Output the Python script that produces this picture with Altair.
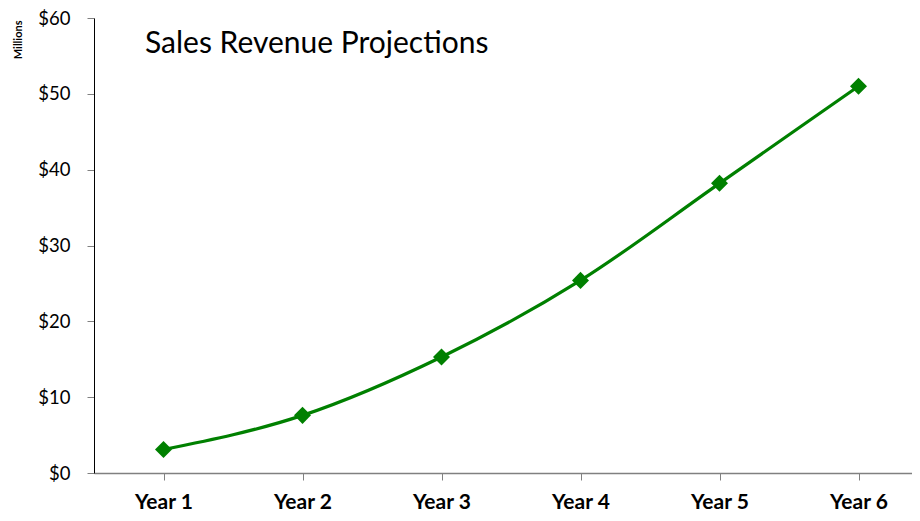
import altair as alt
import pandas as pd

years = ["Year 1", "Year 2", "Year 3", "Year 4", "Year 5", "Year 6"]
revenue = [3.1, 7.6, 15.3, 25.4, 38.2, 51.0]
chart_title = ["Sales Revenue Projections"]

df = pd.DataFrame({"year": years, "revenue": revenue})
tdf = pd.DataFrame({"label": chart_title})

FONT = "Lato"
GREEN = "#008000"

x = alt.X(
    "year:N",
    sort=years,
    scale=alt.Scale(rangeMin=0, rangeMax=834, paddingInner=0, paddingOuter=0),
    axis=alt.Axis(
        title=None,
        bandPosition=0,
        labelAngle=0,
        labelFont=FONT,
        labelFontSize=21,
        labelFontWeight="bold",
        labelColor="#000000",
        labelBaseline="alphabetic",
        labelPadding=28,
        tickSize=7,
        tickColor="#808080",
        domainColor="#808080",
        domainWidth=1.5,
        grid=False,
    ),
)
y = alt.Y(
    "revenue:Q",
    scale=alt.Scale(domain=[0, 60], nice=False),
    axis=alt.Axis(
        values=[0, 10, 20, 30, 40, 50, 60],
        labelExpr="'$' + datum.value",
        labelFont=FONT,
        labelFontSize=18.5,
        labelColor="#000000",
        labelPadding=17,
        tickSize=7,
        tickColor="#808080",
        domainColor="#000000",
        domainWidth=1,
        grid=False,
        title="Millions",
        titleFont=FONT,
        titleFontSize=11,
        titleFontWeight="bold",
        titleColor="#000000",
        titleAngle=-90,
        titleAlign="right",
        titleBaseline="middle",
        titleX=-76,
        titleY=2,
    ),
)

line = alt.Chart(df).mark_line(color=GREEN, strokeWidth=3.2, interpolate="monotone").encode(x=x, y=y)
points = alt.Chart(df).mark_point(shape="diamond", filled=True, color=GREEN, size=290, opacity=1).encode(x=x, y=y)
title = alt.Chart(tdf).mark_text(
    font=FONT, fontSize=30, color="#000000", align="left", baseline="alphabetic"
).encode(text="label:N", x=alt.value(51), y=alt.value(35))

chart = (
    alt.layer(line, points, title)
    .properties(
        width=818,
        height=455,
        autosize=alt.AutoSizeParams(type="none"),
        padding={"left": 86, "top": 10, "right": 0, "bottom": 40},
        background="white",
    )
    .configure_view(strokeWidth=0)
)

chart.save("out.html", embed_options={"renderer": "svg", "actions": False})
